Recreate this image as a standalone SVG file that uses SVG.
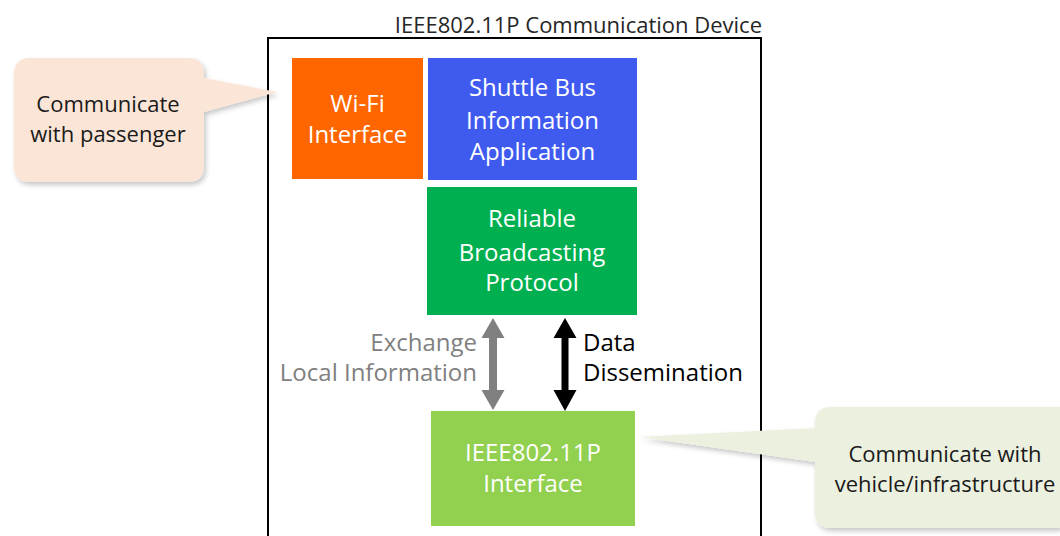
<svg xmlns="http://www.w3.org/2000/svg" width="1060" height="536" viewBox="0 0 1060 536">
<defs>
<filter id="sh" x="-10%" y="-10%" width="130%" height="130%">
<feDropShadow dx="2" dy="3" stdDeviation="2.5" flood-color="#000" flood-opacity="0.22"/>
</filter>
<style>
text{font-family:"Open Sans","Liberation Sans",sans-serif;}
.box{font-size:24px;fill:#fff;text-anchor:middle;}
.lbl{font-size:24px;}
.call{font-size:22px;fill:#1a1a1a;text-anchor:middle;}
.title{font-size:22px;fill:#262626;text-anchor:end;}
</style>
</defs>
<rect width="1060" height="536" fill="#fff"/>

<g id="device">
<rect x="268" y="38" width="493" height="520" fill="none" stroke="#000" stroke-width="2"/>
<text class="title" x="762" y="33">IEEE802.11P Communication Device</text>
</g>

<g id="wifi">
<rect x="292" y="58" width="131" height="121" fill="#FF6600"/>
<text class="box" x="357.5" y="112">Wi-Fi</text>
<text class="box" x="357.5" y="143">Interface</text>
</g>

<g id="shuttle">
<rect x="428" y="58" width="209" height="122" fill="#3F5BEF"/>
<text class="box" x="532.5" y="96">Shuttle Bus</text>
<text class="box" x="532.5" y="129">Information</text>
<text class="box" x="532.5" y="160">Application</text>
</g>

<g id="rbp">
<rect x="427" y="187" width="210" height="128" fill="#00B050"/>
<text class="box" x="532" y="227">Reliable</text>
<text class="box" x="532" y="261">Broadcasting</text>
<text class="box" x="532" y="291">Protocol</text>
</g>

<g id="ieee">
<rect x="431" y="411" width="204" height="115" fill="#92D050"/>
<text class="box" x="533" y="461">IEEE802.11P</text>
<text class="box" x="533" y="492">Interface</text>
</g>

<g id="connectors">
<path d="M493 318 L504.5 338 L497 338 L497 390 L504.5 390 L493 410 L481.5 390 L489 390 L489 338 L481.5 338 Z" fill="#808080"/>
<path d="M565 318 L576.5 338 L568.5 338 L568.5 390 L576.5 390 L565 411 L553.5 390 L561.5 390 L561.5 338 L553.5 338 Z" fill="#000"/>
<text class="lbl" x="477" y="351" style="fill:#808080;text-anchor:end">Exchange</text>
<text class="lbl" x="477" y="381" style="fill:#808080;text-anchor:end">Local Information</text>
<text class="lbl" x="583" y="351" style="fill:#000">Data</text>
<text class="lbl" x="583" y="381" style="fill:#000">Dissemination</text>
</g>

<g id="callout-passenger">
<path d="M30 58 H188 Q204 58 204 74 V78 L277 92 L204 112 V166 Q204 182 188 182 H30 Q14 182 14 166 V74 Q14 58 30 58 Z" fill="#FBE5D6" filter="url(#sh)"/>
<text class="call" x="108" y="112">Communicate</text>
<text class="call" x="108" y="142">with passenger</text>
</g>

<g id="callout-vehicle">
<path d="M831 407 H1060 V528 H831 Q815 528 815 512 V462 L640 437 L815 428 V423 Q815 407 831 407 Z" fill="#EBF0DF" filter="url(#sh)"/>
<text class="call" x="945" y="462">Communicate with</text>
<text class="call" x="945" y="492">vehicle/infrastructure</text>
</g>
</svg>
